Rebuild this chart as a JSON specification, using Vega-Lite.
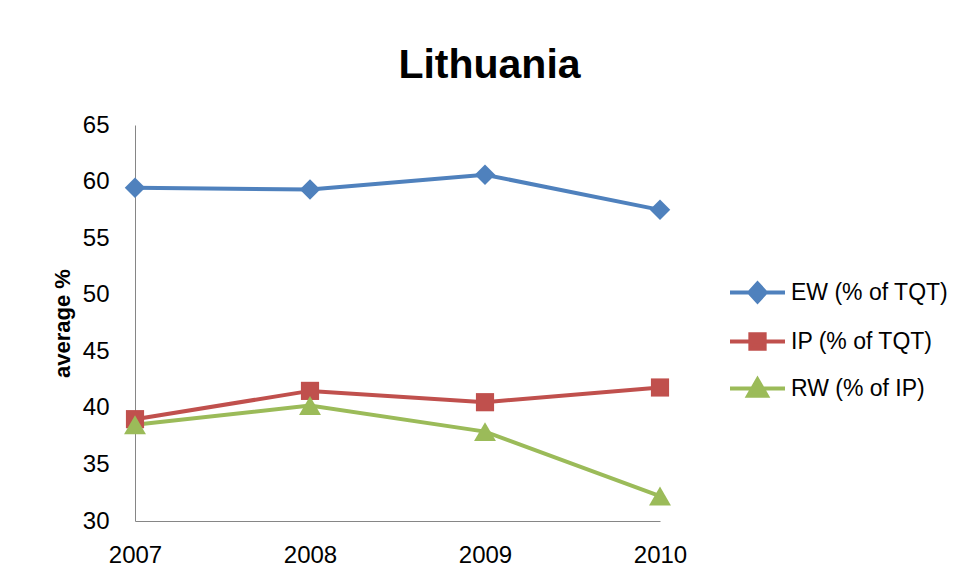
{
  "$schema": "https://vega.github.io/schema/vega-lite/v6.json",
  "width": 525,
  "height": 396,
  "autosize": {"type": "none"},
  "padding": {"left": 135, "top": 125, "right": 297, "bottom": 60},
  "background": "white",
  "config": {"view": {"stroke": null}, "font": "Liberation Sans"},
  "title": {"text": "Lithuania", "fontSize": 41, "fontWeight": "bold", "color": "#000000", "anchor": "middle", "dx": 92, "dy": 54, "offset": 48, "baseline": "alphabetic", "font": "Liberation Sans"},
  "data": {"values": [
    {"year": "2007", "series": "EW (% of TQT)", "value": 59.45},
    {"year": "2008", "series": "EW (% of TQT)", "value": 59.3},
    {"year": "2009", "series": "EW (% of TQT)", "value": 60.6},
    {"year": "2010", "series": "EW (% of TQT)", "value": 57.5},
    {"year": "2007", "series": "IP (% of TQT)", "value": 39.0},
    {"year": "2008", "series": "IP (% of TQT)", "value": 41.5},
    {"year": "2009", "series": "IP (% of TQT)", "value": 40.5},
    {"year": "2010", "series": "IP (% of TQT)", "value": 41.8},
    {"year": "2007", "series": "RW (% of IP)", "value": 38.5},
    {"year": "2008", "series": "RW (% of IP)", "value": 40.2},
    {"year": "2009", "series": "RW (% of IP)", "value": 37.9},
    {"year": "2010", "series": "RW (% of IP)", "value": 32.2}
  ]},
  "encoding": {
    "x": {"field": "year", "type": "ordinal", "scale": {"type": "point", "padding": 0},
      "axis": {"title": null, "labelAngle": 0, "labelFontSize": 24, "labelColor": "#000000", "labelPadding": 22, "ticks": false, "grid": false, "domainColor": "#868686", "domainWidth": 1}},
    "y": {"field": "value", "type": "quantitative", "scale": {"domain": [30, 65], "nice": false, "zero": false},
      "axis": {"title": "average %", "titleFontSize": 22, "titleFontWeight": "bold", "titleColor": "#000000", "titleX": -73, "titleY": 198, "titleAngle": -90, "titleBaseline": "middle", "titleAlign": "center",
        "values": [30, 35, 40, 45, 50, 55, 60, 65], "labelFontSize": 24, "labelColor": "#000000", "labelPadding": 26, "ticks": false, "grid": false, "domainColor": "#868686", "domainWidth": 1}},
    "color": {"field": "series", "type": "nominal",
      "scale": {"domain": ["EW (% of TQT)", "IP (% of TQT)", "RW (% of IP)"], "range": ["#4F81BD", "#C0504D", "#9BBB59"]},
      "legend": {"title": null, "orient": "none", "legendX": 593, "legendY": 138, "padding": 0, "labelFontSize": 23, "labelColor": "#000000", "labelOffset": 4, "symbolSize": 3025, "symbolStrokeWidth": 4, "rowPadding": 2,
        "encode": {"symbols": {"update": {
          "shape": {"signal": "datum.value === 'EW (% of TQT)' ? 'M-1,0H1M-0.3,0L0,-0.33L0.3,0L0,0.33Z' : (datum.value === 'IP (% of TQT)' ? 'M-1,0H1M-0.26,-0.26H0.26V0.26H-0.26Z' : 'M-1,0H1M0,-0.33L0.34,0.26L-0.34,0.26Z')"},
          "fill": {"signal": "scale('color', datum.value)"},
          "stroke": {"signal": "scale('color', datum.value)"},
          "strokeWidth": {"value": 4},
          "opacity": {"value": 1}}}}}}
  },
  "layer": [
    {"mark": {"type": "line", "strokeWidth": 4}},
    {"transform": [{"filter": "datum.series === 'EW (% of TQT)'"}],
      "mark": {"type": "point", "filled": true, "opacity": 1, "shape": "diamond", "size": 420}},
    {"transform": [{"filter": "datum.series === 'IP (% of TQT)'"}],
      "mark": {"type": "point", "filled": true, "opacity": 1, "shape": "square", "size": 330}},
    {"transform": [{"filter": "datum.series === 'RW (% of IP)'"}],
      "mark": {"type": "point", "filled": true, "opacity": 1, "shape": "triangle-up", "size": 480}}
  ]
}
